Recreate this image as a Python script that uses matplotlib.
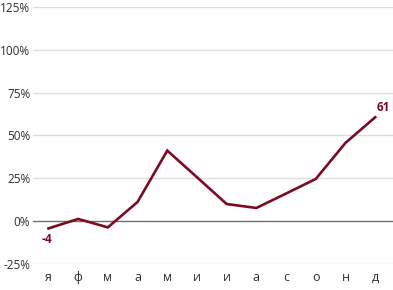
import matplotlib
matplotlib.use("Agg")
import matplotlib.pyplot as plt

months = ["я", "ф", "м", "а", "м", "и", "и", "а", "с", "о", "н", "д"]
values = [-4.1, 1.4, -3.5, 11.3, 41.2, 25.7, 10.1, 7.8, 16.2, 24.7, 45.7, 60.6]
yticks = [-25, 0, 25, 50, 75, 100, 125]
first_label = "-4"
last_label = "61"

line_color = "#7b0b22"
text_color = "#2e2e2e"

plt.rcParams['font.family'] = ['Open Sans', 'DejaVu Sans']

fig = plt.figure(figsize=(3.93, 2.90), dpi=100)
ax = fig.add_axes([0.084, 0.0886, 0.916, 0.8884])

x = list(range(len(months)))
for t in yticks:
    if t == 0:
        ax.axhline(t, color="#6e6e6e", lw=1.0, zorder=1)
    else:
        ax.axhline(t, color="#dcdcdc", lw=1.0, zorder=0)

ax.plot(x, values, color=line_color, lw=1.9, zorder=3, clip_on=False,
        solid_joinstyle="miter")

ax.annotate(first_label, (x[0], values[0]), xytext=(-1, -8), textcoords="offset points",
            ha="center", va="center", color=line_color, fontsize=8.5, fontweight="bold")
ax.annotate(last_label, (x[-1], values[-1]), xytext=(6, 7), textcoords="offset points",
            ha="center", va="center", color=line_color, fontsize=8.5, fontweight="bold")

ax.set_xlim(-0.52, 11.6)
ax.set_ylim(-25, 125)
ax.set_yticks(yticks)
ax.set_yticklabels([f"{t}%" for t in yticks])
ax.set_xticks(x)
ax.set_xticklabels(months)
ax.tick_params(axis="both", length=0, colors=text_color, labelsize=8.5)
ax.tick_params(axis="y", pad=2)
ax.tick_params(axis="x", pad=5, labelsize=9)
for s in ax.spines.values():
    s.set_visible(False)

fig.savefig("out.png", dpi=100)
